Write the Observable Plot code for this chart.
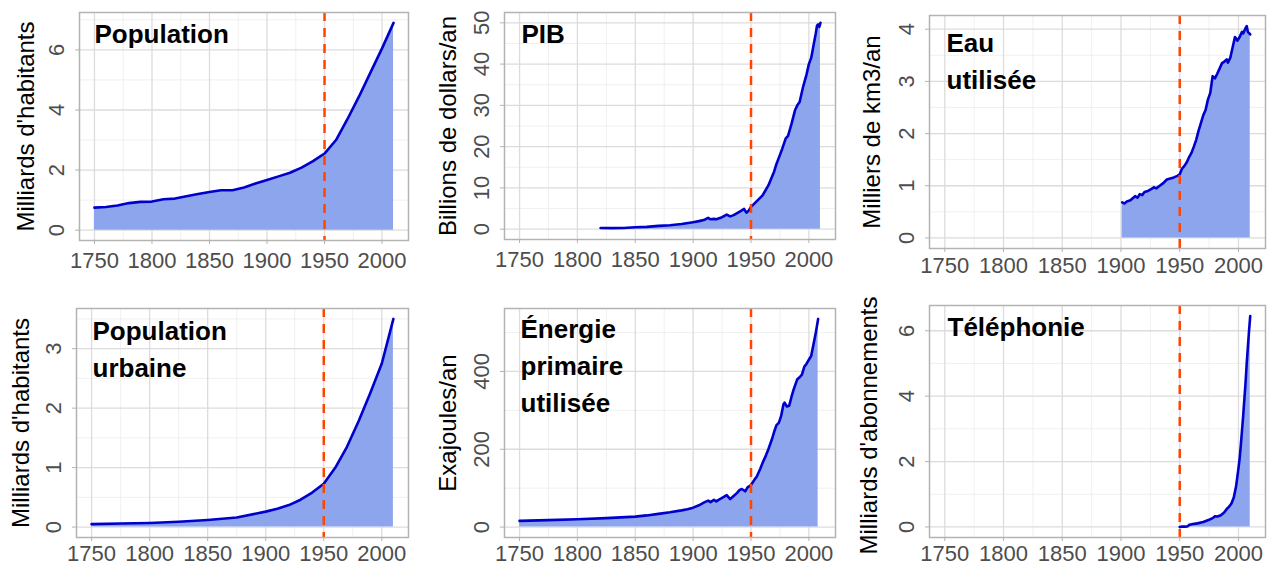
<!DOCTYPE html>
<html><head><meta charset="utf-8">
<script src="https://cdn.jsdelivr.net/npm/d3@7"></script>
<script src="https://cdn.jsdelivr.net/npm/@observablehq/plot@0.6"></script>
<style>
body{margin:0;background:#fff;}
#wrap{position:relative;width:1277px;height:567px;overflow:hidden;background:#fff;}
#wrap > svg{position:absolute;}
</style></head><body><div id="wrap"></div>
<script>
// ---- Data ----
const xTicks = [1750, 1800, 1850, 1900, 1950, 2000];
const xMinor = [1775, 1825, 1875, 1925, 1975];
const pivotYear = [1950];

const popYears = [1750,1760,1770,1780,1790,1800,1810,1820,1830,1840,1850,1860,1870,1880,1890,1900,1910,1920,1930,1940,1950,1960,1970,1980,1990,2000,2010];
const popValues = [0.75,0.77,0.82,0.9,0.94,0.95,1.03,1.05,1.13,1.2,1.27,1.33,1.33,1.42,1.55,1.67,1.79,1.91,2.08,2.3,2.55,3.0,3.7,4.45,5.25,6.05,6.9];

const gdpYears = [1820,1830,1840,1850,1860,1870,1880,1890,1900,1905,1910,1913,1915,1918,1920,1925,1929,1932,1935,1938,1941,1944,1946,1948,1950,1955,1960,1965,1970,1972,1975,1977,1980,1982,1985,1988,1990,1992,1995,1998,2000,2002,2004,2006,2007,2008,2009,2010];
const gdpValues = [0.3,0.25,0.3,0.45,0.55,0.8,0.95,1.25,1.7,1.95,2.3,2.75,2.4,2.5,2.4,2.9,3.55,3.1,3.4,3.9,4.4,4.9,4.0,4.5,5.4,6.8,8.2,10.6,14.0,15.8,18.0,19.5,22.0,22.6,25.5,28.8,30.0,30.8,34.5,37.5,40.0,41.5,44.5,47.5,49.3,49.6,49.0,50.0];

const waterYears = [1901,1903,1905,1908,1910,1912,1914,1916,1918,1920,1923,1926,1928,1930,1933,1936,1939,1942,1945,1948,1950,1952,1954,1956,1958,1960,1962,1964,1966,1968,1970,1972,1974,1976,1978,1980,1982,1984,1986,1988,1990,1991,1993,1995,1997,1998,1999,2001,2003,2004,2006,2007,2008,2010];
const waterValues = [0.68,0.66,0.7,0.72,0.76,0.8,0.77,0.84,0.82,0.88,0.9,0.94,0.97,0.95,1.0,1.05,1.12,1.14,1.16,1.19,1.22,1.33,1.38,1.45,1.55,1.63,1.75,1.88,2.05,2.2,2.35,2.45,2.65,2.78,3.1,3.06,3.15,3.25,3.35,3.38,3.42,3.36,3.45,3.65,3.85,3.82,3.78,3.85,3.95,3.92,4.02,4.06,3.95,3.9];

const urbanYears = [1750,1775,1800,1825,1850,1875,1900,1910,1920,1930,1940,1950,1960,1970,1980,1990,2000,2010];
const urbanValues = [0.05,0.06,0.07,0.09,0.12,0.16,0.26,0.31,0.37,0.46,0.58,0.73,1.0,1.35,1.78,2.25,2.75,3.5];

const energyYears = [1750,1775,1800,1825,1850,1860,1870,1880,1890,1895,1900,1905,1910,1913,1915,1918,1920,1922,1925,1929,1932,1935,1938,1940,1942,1945,1947,1950,1953,1955,1958,1960,1963,1965,1968,1970,1972,1974,1976,1978,1979,1981,1983,1985,1987,1989,1990,1992,1994,1996,1998,2000,2002,2004,2006,2008];
const energyValues = [16,18,20,23,27,30,34,38,43,46,50,56,64,68,64,70,66,70,75,82,72,80,88,95,98,92,102,108,122,130,150,165,185,200,225,245,262,268,285,315,320,310,312,335,355,372,380,385,392,412,420,430,440,470,500,535];

const phoneYears = [1950,1952,1955,1957,1958,1960,1965,1970,1975,1978,1980,1982,1985,1988,1990,1992,1994,1996,1998,2000,2001,2002,2003,2004,2005,2006,2007,2008,2009,2010];
const phoneValues = [0.0,0.01,0.01,0.02,0.07,0.08,0.11,0.15,0.22,0.27,0.33,0.32,0.36,0.45,0.55,0.62,0.72,0.9,1.25,1.8,2.1,2.5,2.95,3.4,3.9,4.4,5.0,5.5,6.0,6.45];

const titles = ["Population", "PIB", "Eau\nutilisée", "Population\nurbaine", "Énergie\nprimaire\nutilisée", "Téléphonie"];
const yLabels = ["Milliards d'habitants", "Billions de dollars/an", "Milliers de km3/an", "Milliards d'habitants", "Exajoules/an", "Milliards d'abonnements"];
const yTicksList = [[0,2,4,6],[0,10,20,30,40,50],[0,1,2,3,4],[0,1,2,3],[0,200,400],[0,2,4,6]];
const yMinorList = [[1,3,5,7],[5,15,25,35,45],[0.5,1.5,2.5,3.5],[0.5,1.5,2.5,3.5],[100,300,500],[1,3,5]];

const series = [
  [popYears, popValues], [gdpYears, gdpValues], [waterYears, waterValues],
  [urbanYears, urbanValues], [energyYears, energyValues], [phoneYears, phoneValues]
];

// ---- Layout (cell & frame in page pixels) ----
const cells = [
  {left:0, top:0, w:425, h:283, frame:[79,12,408,240], tdx:15, tdy:4, ldx:-53, ldy:0, xpad:8},
  {left:425, top:0, w:425, h:283, frame:[504,12,835,239], tdx:17, tdy:4, ldx:-56, ldy:0, xpad:8},
  {left:850, top:0, w:427, h:283, frame:[929,15,1265,248], tdx:17, tdy:10, ldx:-57, ldy:0, xpad:5},
  {left:0, top:283, w:425, h:284, frame:[76,308,408,537], tdx:16, tdy:5, ldx:-55, ldy:0, xpad:4},
  {left:425, top:283, w:425, h:284, frame:[504,308,835,537], tdx:16, tdy:3, ldx:-56, ldy:0, xpad:4},
  {left:850, top:283, w:427, h:284, frame:[929,305,1265,537], tdx:18, tdy:4, ldx:-60, ldy:4, xpad:4}
];

const wrap = document.getElementById("wrap");
const font = "'Liberation Sans', Arial, Helvetica, sans-serif";

series.forEach(([years, values], i) => {
  const c = cells[i];
  const data = years.map((year, j) => ({year, value: values[j]}));
  const maxV = d3.max(values);
  const yDomain = [-0.05 * maxV, 1.05 * maxV];
  const [fx0, fy0, fx1, fy1] = c.frame;
  const svg = Plot.plot({
    width: c.w,
    height: c.h,
    marginLeft: fx0 - c.left,
    marginRight: c.left + c.w - fx1,
    marginTop: fy0 - c.top,
    marginBottom: c.top + c.h - fy1,
    style: {fontFamily: font, background: "white", overflow: "visible"},
    x: {domain: [1737, 2023], label: null},
    y: {domain: yDomain, label: null},
    marks: [
      Plot.gridX(xMinor, {stroke: "#ececec", strokeOpacity: 1, strokeWidth: 0.8}),
      Plot.gridY(yMinorList[i], {stroke: "#ececec", strokeOpacity: 1, strokeWidth: 0.8}),
      Plot.gridX(xTicks, {stroke: "#dcdcdc", strokeOpacity: 1, strokeWidth: 1.3}),
      Plot.gridY(yTicksList[i], {stroke: "#dcdcdc", strokeOpacity: 1, strokeWidth: 1.3}),
      Plot.areaY(data, {x: "year", y: "value", fill: "#8da5ed"}),
      Plot.lineY(data, {x: "year", y: "value", stroke: "#0000cd", strokeWidth: 2.6}),
      Plot.ruleX(pivotYear, {stroke: "#ff4500", strokeWidth: 2.5, strokeDasharray: "9,7"}),
      Plot.frame({stroke: "#b3b3b3", strokeWidth: 1.5}),
      Plot.axisX(xTicks, {tickFormat: "d", tickSize: 4, tickPadding: c.xpad, stroke: "#b3b3b3", fill: "#4d4d4d", fontSize: 22, label: null}),
      Plot.axisY(yTicksList[i], {tickFormat: d => String(d), tickRotate: -90, tickSize: 4, tickPadding: 12, stroke: "#b3b3b3", fill: "#4d4d4d", fontSize: 22, label: null}),
      Plot.text([yLabels[i]], {text: d => d, frameAnchor: "left", rotate: -90, dx: c.ldx, dy: c.ldy, fontSize: 24, fill: "#000", textAnchor: "middle", lineAnchor: "middle"}),
      Plot.text([titles[i]], {text: d => d, frameAnchor: "top-left", dx: c.tdx, dy: c.tdy, fontSize: 26, fontWeight: "bold", fill: "#000", textAnchor: "start", lineAnchor: "top", lineHeight: 1.43})
    ]
  });
  svg.style.left = c.left + "px";
  svg.style.top = c.top + "px";
  wrap.appendChild(svg);
});
</script>
</body></html>
